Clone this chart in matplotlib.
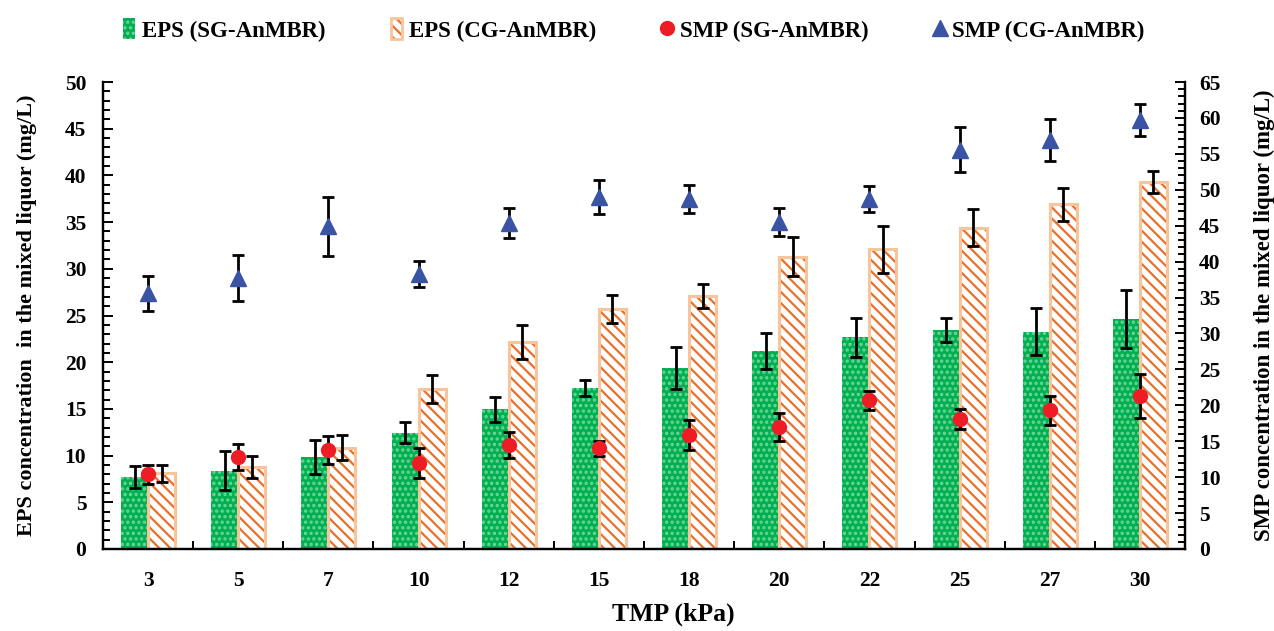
import matplotlib
matplotlib.use("Agg")
import matplotlib.pyplot as plt
import numpy as np
from matplotlib.patches import Patch
from matplotlib.lines import Line2D
from matplotlib.ticker import MultipleLocator

plt.rcParams['font.family'] = ['Liberation Serif', 'DejaVu Serif']
plt.rcParams['font.weight'] = 'bold'
plt.rcParams['hatch.linewidth'] = 1.6

tmp_labels = ['3', '5', '7', '10', '12', '15', '18', '20', '22', '25', '27', '30']

eps_sg = [7.7, 8.4, 9.85, 12.45, 14.95, 17.2, 19.35, 21.2, 22.65, 23.45, 23.25, 24.65]
eps_sg_err = [1.2, 2.1, 1.8, 1.1, 1.3, 0.85, 2.25, 1.9, 2.1, 1.3, 2.5, 3.1]
eps_cg = [8.1, 8.75, 10.85, 17.15, 22.15, 25.65, 27.1, 31.3, 32.1, 34.4, 36.9, 39.3]
eps_cg_err = [0.9, 1.2, 1.35, 1.5, 1.85, 1.5, 1.3, 2.1, 2.5, 2.0, 1.8, 1.2]

smp_sg = [10.4, 12.8, 13.8, 12.0, 14.5, 14.0, 15.9, 17.0, 20.7, 18.1, 19.3, 21.3]
smp_sg_err = [1.35, 1.8, 1.9, 2.05, 1.8, 1.1, 2.1, 1.9, 1.3, 1.35, 2.0, 3.1]
smp_cg = [35.6, 37.7, 44.9, 38.3, 45.4, 49.0, 48.7, 45.5, 48.7, 55.6, 56.9, 59.7]
smp_cg_err = [2.45, 3.2, 4.1, 1.85, 2.05, 2.4, 1.9, 2.0, 1.85, 3.1, 2.9, 2.25]

green = '#00B050'
green_dot = '#6FD59A'
orange = '#E8702A'
orange_edge = '#F8C49C'
red = '#EE1C25'
blue = '#3A53A4'

fig = plt.figure(figsize=(12.74, 6.31), dpi=100)
ax = fig.add_axes([103/1274, 1-549/631, (1185-103)/1274, (549-82)/631])
ax2 = ax.twinx()

x = np.arange(len(tmp_labels))
w = 0.30

ax.bar(x - w/2, eps_sg, w, color=green, edgecolor=green_dot, hatch='...', linewidth=0, zorder=2)
ax.bar(x + w/2, eps_cg, w, color='white', edgecolor=orange, hatch='\\\\\\', linewidth=0, zorder=2)
ax.bar(x + w/2, eps_cg, w, fill=False, edgecolor=orange_edge, linewidth=2.2, zorder=2.1)

ekw = dict(fmt='none', ecolor='black', elinewidth=2, capsize=4, capthick=2, zorder=3)
ax.errorbar(x - w/2, eps_sg, yerr=eps_sg_err, **ekw)
ax.errorbar(x + w/2, eps_cg, yerr=eps_cg_err, **ekw)

ax2.errorbar(x, smp_sg, yerr=smp_sg_err, fmt='o', color=red, markersize=10,
             ecolor='black', elinewidth=2, capsize=4, capthick=2, zorder=4)
ax2.errorbar(x, smp_cg, yerr=smp_cg_err, fmt='^', color=blue, markersize=12,
             ecolor='black', elinewidth=2, capsize=4, capthick=2, zorder=4)

ax.set_xlim(-0.5, 11.48)
ax.set_ylim(0, 50)
ax2.set_ylim(0, 65)
ax.set_xticks(x)
ax.set_xticklabels(tmp_labels)
ax.set_xticks(x + 0.5, minor=True)
ax.yaxis.set_major_locator(MultipleLocator(5))
ax.yaxis.set_minor_locator(MultipleLocator(1))
ax2.yaxis.set_major_locator(MultipleLocator(5))
ax2.yaxis.set_minor_locator(MultipleLocator(1))

for a in (ax, ax2):
    a.spines['top'].set_visible(False)
    for s in a.spines.values():
        s.set_linewidth(1.6)
    a.tick_params(which='both', direction='in', width=1.4, labelsize=15.5)
    a.tick_params(which='major', length=7)
    a.tick_params(which='minor', length=5)
ax.tick_params(axis='x', which='major', length=0, pad=16)
ax.tick_params(axis='x', which='minor', length=6)
ax.tick_params(axis='y', pad=12)
ax2.tick_params(axis='y', pad=10)
for a in (ax, ax2):
    for lbl in a.get_xticklabels() + a.get_yticklabels():
        lbl.set_fontweight('bold')

ax.set_xlabel('TMP (kPa)', fontsize=18.5, fontweight='bold')
ax.xaxis.set_label_coords((673-103)/1082, -(603-549)/467)
ax.set_ylabel('EPS concentration  in the mixed liquor (mg/L)', fontsize=16, fontweight='bold', labelpad=20)
ax2.set_ylabel('SMP concentration in the mixed liquor (mg/L)', fontsize=16.5, fontweight='bold', labelpad=24)

handles = [
    Patch(facecolor=green, edgecolor=green_dot, hatch='...', linewidth=0),
    (Patch(facecolor='white', edgecolor=orange, hatch='\\\\\\', linewidth=0),
     Patch(fill=False, edgecolor=orange_edge, linewidth=2)),
    Line2D([], [], marker='o', color=red, linestyle='none', markersize=10),
    Line2D([], [], marker='^', color=blue, linestyle='none', markersize=12),
]
labels = ['EPS (SG-AnMBR)', 'EPS (CG-AnMBR)', 'SMP (SG-AnMBR)', 'SMP (CG-AnMBR)']
fig.legend(handles, labels, loc='center', bbox_to_anchor=(634/1274, 1-30/631), ncol=4,
           frameon=False, prop={'size': 16.5, 'weight': 'bold'}, columnspacing=2.85,
           handlelength=0.5, handleheight=1.0, handletextpad=0.3)

fig.savefig('out.png', dpi=100)
